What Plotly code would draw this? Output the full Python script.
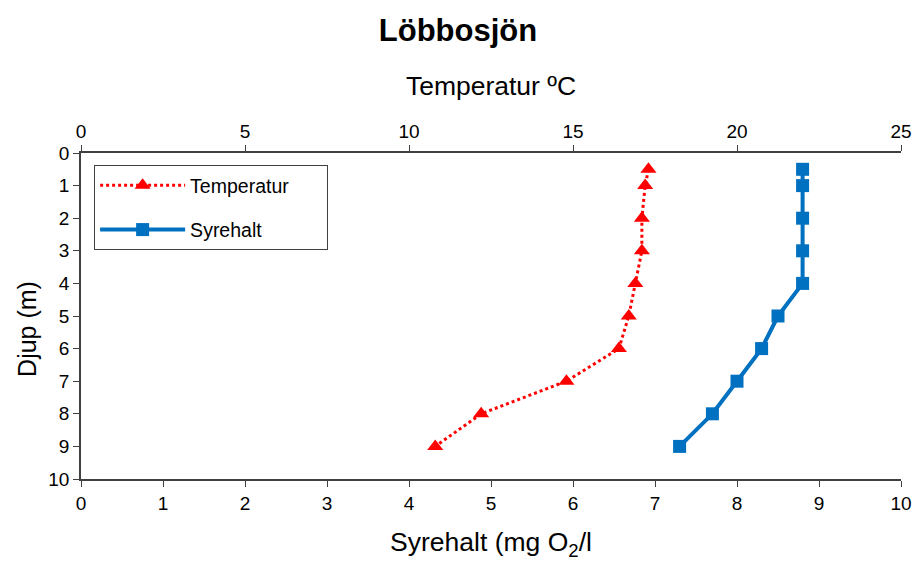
import plotly.graph_objects as go

depth = [0.5, 1, 2, 3, 4, 5, 6, 7, 8, 9]
temperatur = [17.3, 17.2, 17.1, 17.1, 16.9, 16.7, 16.4, 14.8, 12.2, 10.8]
syrehalt = [8.8, 8.8, 8.8, 8.8, 8.8, 8.5, 8.3, 8.0, 7.7, 7.3]

FONT = "Liberation Sans, Arial, sans-serif"

fig = go.Figure()
fig.add_trace(go.Scatter(
    x=temperatur, y=depth, xaxis="x2", yaxis="y", name="Temperatur&nbsp;&nbsp;&nbsp;&nbsp;&nbsp;&nbsp;",
    legendgroup="t",
    mode="lines+markers",
    line=dict(color="#FF0000", width=3, dash="dot"),
    marker=dict(symbol="triangle-up", size=14, color="#FF0000"),
))
fig.add_trace(go.Scatter(
    x=syrehalt, y=depth, xaxis="x", yaxis="y", name="Syrehalt",
    legendgroup="s",
    mode="lines+markers",
    line=dict(color="#0070C0", width=4),
    marker=dict(symbol="square", size=13, color="#0070C0"),
))

axis_common = dict(
    showgrid=False, zeroline=False, showline=True, linecolor="#404040", linewidth=1.5,
    ticks="outside", ticklen=6, tickcolor="#404040", automargin=False,
    tickfont=dict(family=FONT, size=19, color="black"),
)

fig.update_layout(
    width=916, height=563,
    margin=dict(l=81, r=15, t=153, b=84),
    paper_bgcolor="white", plot_bgcolor="white",
    font=dict(family=FONT, color="black"),
    title=dict(text="<b>Löbbosjön</b>", x=0.5, xanchor="center", y=0.947, yanchor="middle",
               font=dict(family=FONT, size=31, color="black")),
    xaxis=dict(range=[0, 10], dtick=1, tick0=0,
               title=dict(text="Syrehalt (mg O<sub>2</sub>/l", font=dict(family=FONT, size=26.5), standoff=20),
               **axis_common),
    xaxis2=dict(range=[0, 25], dtick=5, tick0=0, overlaying="x", side="top",
                title=dict(text="Temperatur ºC", font=dict(family=FONT, size=26.5), standoff=17),
                **axis_common),
    yaxis=dict(range=[10, 0], dtick=1, tick0=0, **axis_common),
    annotations=[dict(text="Djup (m)", textangle=-90, xref="paper", yref="paper",
                      x=-0.066, y=0.46, xanchor="center", yanchor="middle", showarrow=False,
                      font=dict(family=FONT, size=25, color="black"))],
    showlegend=True,
    legend=dict(x=0.016, y=0.963, xanchor="left", yanchor="top",
                bordercolor="#404040", borderwidth=1, bgcolor="white",
                font=dict(family=FONT, size=19.5, color="black"),
                itemwidth=85, tracegroupgap=16, traceorder="grouped"),
)

fig.write_html("out.html")
